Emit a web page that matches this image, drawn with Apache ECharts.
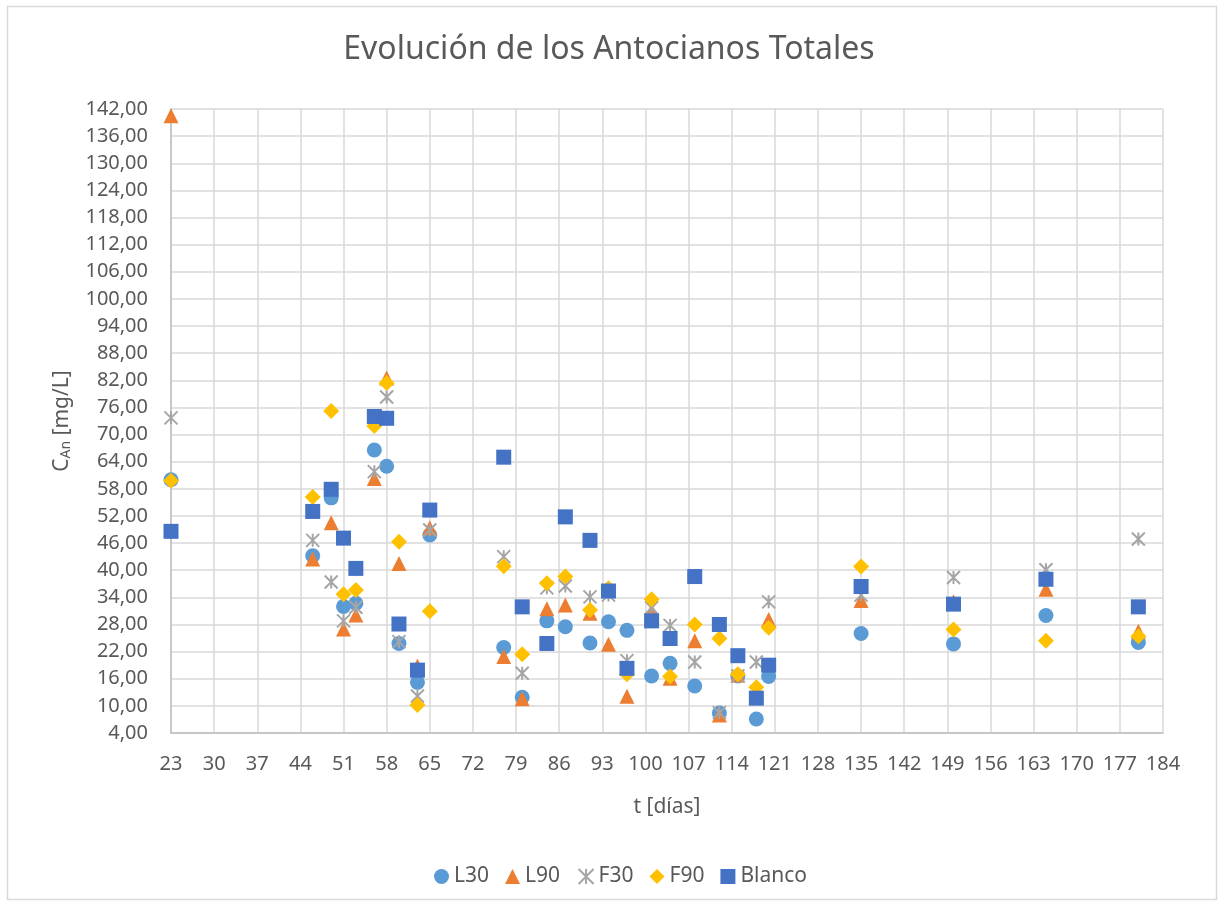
<!DOCTYPE html>
<html>
<head>
<meta charset="utf-8">
<script src="https://cdn.jsdelivr.net/npm/echarts@6/dist/echarts.min.js"></script>
<style>
  html, body { margin: 0; padding: 0; background: #fff; }
  #main { width: 1218px; height: 907px; }
</style>
</head>
<body>
<div id="main"></div>
<script>
// dias de medicion
const dias = [23, 46, 49, 51, 53, 56, 58, 60, 63, 65, 77, 80, 84, 87, 91, 94, 97, 101, 104, 108, 112, 115, 118, 120, 135, 150, 165, 180];

// C_An [mg/L] por serie (mismo orden que dias)
const L30 = [60.0, 43.2, 56.0, 32.0, 32.7, 66.6, 63.0, 23.8, 15.2, 47.8, 22.9, 11.9, 28.8, 27.5, 23.9, 28.6, 26.7, 16.6, 19.4, 14.4, 8.4, 16.6, 7.1, 16.5, 26.0, 23.7, 30.0, 24.0];
const L90 = [140.5, 42.5, 50.5, 27.0, 30.1, 60.3, 82.5, 41.5, 18.8, 49.4, 20.9, 11.6, 31.5, 32.3, 30.5, 23.6, 12.1, 31.0, 16.1, 24.4, 8.0, 16.8, 12.0, 29.1, 33.3, 33.0, 35.8, 26.5];
const F30 = [73.7, 46.6, 37.4, 28.8, 31.8, 61.8, 78.3, 24.2, 12.2, 48.9, 43.0, 17.2, 36.1, 36.5, 34.1, 34.5, 20.0, 31.7, 27.8, 19.7, 8.5, 16.6, 19.7, 33.0, 34.5, 38.4, 40.1, 46.9];
const F90 = [59.8, 56.2, 75.2, 34.7, 35.6, 71.9, 81.4, 46.3, 10.2, 30.9, 40.9, 21.4, 37.1, 38.6, 31.2, 36.0, 17.0, 33.6, 16.5, 28.0, 24.9, 17.0, 14.1, 27.3, 40.8, 26.9, 24.4, 25.4];
const Blanco = [48.6, 53.0, 57.9, 47.1, 40.4, 74.0, 73.6, 28.1, 17.9, 53.3, 65.0, 31.9, 23.8, 51.8, 46.6, 35.4, 18.3, 28.8, 24.9, 38.6, 28.0, 21.1, 11.7, 19.0, 36.4, 32.5, 38.0, 31.9];

// ejes: 23..184 cada 7, 4..142 cada 6
const X_MIN = 23, X_MAX = 184, X_STEP = 7;
const Y_MIN = 4, Y_MAX = 142, Y_STEP = 6;

// el eje cuenta ticks desde min, asi que se desplaza al origen
function puntos(vals) {
  return dias.map((d, i) => [d - X_MIN, vals[i] - Y_MIN]);
}

const txt = '#595959';
const fuente = '"Noto Sans", "DejaVu Sans", sans-serif';
const starPath = 'path://M0,0L10,10M10,0L0,10M5,0L5,10';

const chart = echarts.init(document.getElementById('main'));
chart.setOption({
  backgroundColor: '#fff',
  animation: false,
  title: {
    text: 'Evolución de los Antocianos Totales',
    left: 'center',
    top: 29,
    textStyle: { color: txt, fontFamily: fuente, fontWeight: 'normal', fontSize: 32 }
  },
  graphic: [{
    type: 'rect',
    shape: { x: 7.5, y: 6.5, width: 1209, height: 893 },
    style: { fill: 'none', stroke: '#d9d9d9', lineWidth: 1.5 },
    silent: true
  }],
  grid: { left: 171, right: 55, top: 109, bottom: 174 },
  legend: {
    bottom: 15,
    left: 429,
    itemWidth: 15,
    itemHeight: 15,
    itemGap: 16,
    textStyle: { color: txt, fontFamily: fuente, fontSize: 21 },
    data: ['L30', 'L90', 'F30', 'F90', 'Blanco']
  },
  xAxis: {
    type: 'value',
    min: 0,
    max: X_MAX - X_MIN,
    interval: X_STEP,
    name: 't [días]',
    nameLocation: 'middle',
    nameGap: 64,
    nameTextStyle: { color: txt, fontFamily: fuente, fontSize: 21 },
    axisLine: { show: true, lineStyle: { color: '#bfbfbf', width: 1.5 } },
    axisTick: { show: false },
    splitLine: { show: true, lineStyle: { color: '#d9d9d9', width: 1.5 } },
    axisLabel: {
      color: txt, fontFamily: fuente, fontSize: 20, margin: 21,
      formatter: v => String(v + X_MIN)
    }
  },
  yAxis: {
    type: 'value',
    min: 0,
    max: Y_MAX - Y_MIN,
    interval: Y_STEP,
    name: '{c|C}{s|An}{c| [mg/L]}',
    nameLocation: 'middle',
    nameRotate: 90,
    nameGap: 98,
    nameTextStyle: {
      color: txt, fontFamily: fuente,
      rich: {
        c: { fontSize: 21, color: txt, fontFamily: fuente },
        s: { fontSize: 14, color: txt, fontFamily: fuente, verticalAlign: 'bottom', padding: [8, 0, 0, 0] }
      }
    },
    axisLine: { show: true, lineStyle: { color: '#bfbfbf', width: 1.5 } },
    axisTick: { show: false },
    splitLine: { show: true, lineStyle: { color: '#d9d9d9', width: 1.5 } },
    axisLabel: {
      color: txt, fontFamily: fuente, fontSize: 20, margin: 23,
      formatter: v => (v + Y_MIN).toFixed(2).replace('.', ',')
    }
  },
  series: [
    { name: 'L30', type: 'scatter', symbol: 'circle', symbolSize: 15,
      itemStyle: { color: '#5b9bd5', opacity: 1 }, data: puntos(L30) },
    { name: 'L90', type: 'scatter', symbol: 'triangle', symbolSize: 15,
      itemStyle: { color: '#ed7d31', opacity: 1 }, data: puntos(L90) },
    { name: 'F30', type: 'scatter', symbol: starPath, symbolSize: 13,
      itemStyle: { color: 'none', borderColor: '#a5a5a5', borderWidth: 2, opacity: 1 }, data: puntos(F30) },
    { name: 'F90', type: 'scatter', symbol: 'diamond', symbolSize: 16,
      itemStyle: { color: '#ffc000', opacity: 1 }, data: puntos(F90) },
    { name: 'Blanco', type: 'scatter', symbol: 'rect', symbolSize: 15,
      itemStyle: { color: '#4472c4', opacity: 1 }, data: puntos(Blanco) }
  ]
});
</script>
</body>
</html>
